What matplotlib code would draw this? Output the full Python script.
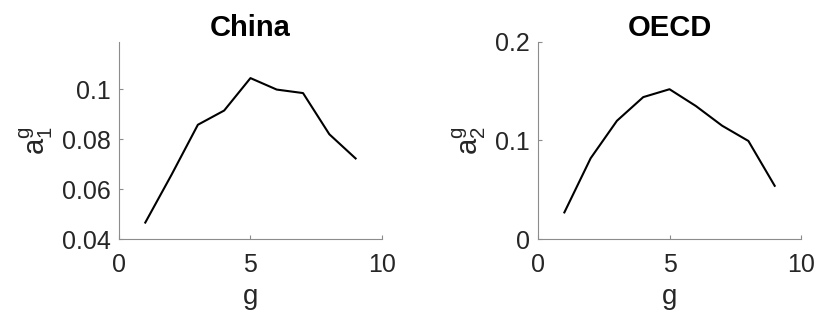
import matplotlib
matplotlib.use('Agg')
import matplotlib.pyplot as plt

plt.rcParams['font.family'] = ['Liberation Sans', 'DejaVu Sans']
plt.rcParams['mathtext.fontset'] = 'custom'
plt.rcParams['mathtext.rm'] = 'Liberation Sans'
plt.rcParams['mathtext.it'] = 'Liberation Sans'

# data
g = [1, 2, 3, 4, 5, 6, 7, 8, 9]
china = [0.0466, 0.0658, 0.0858, 0.0915, 0.1045, 0.0999, 0.0985, 0.0820, 0.0723]
oecd = [0.027, 0.082, 0.120, 0.144, 0.152, 0.135, 0.115, 0.0995, 0.054]

titles = ['China', 'OECD']
ylabels = [r'$\mathregular{a_1^g}$', r'$\mathregular{a_2^g}$']
ylims = [(0.04, 0.119), (0.0, 0.2)]
yticks = [[0.04, 0.06, 0.08, 0.1], [0, 0.1, 0.2]]
yticklabels = [['0.04', '0.06', '0.08', '0.1'], ['0', '0.1', '0.2']]

AXIS_GRAY = '#8c8c8c'
TEXT = '#262626'

fig = plt.figure(figsize=(8.19, 3.2), dpi=100)
lefts = [0.1453, 0.657]

for i, ys in enumerate([china, oecd]):
    ax = fig.add_axes([lefts[i], 0.253, 0.321, 0.616])
    ax.plot(g, ys, color='black', linewidth=1.5)
    ax.set_xlim(0, 10)
    ax.set_ylim(*ylims[i])
    ax.set_xticks([0, 5, 10])
    ax.set_yticks(yticks[i])
    ax.set_yticklabels(yticklabels[i])
    ax.spines['top'].set_visible(False)
    ax.spines['right'].set_visible(False)
    for s in ('left', 'bottom'):
        ax.spines[s].set_color(AXIS_GRAY)
        ax.spines[s].set_linewidth(0.8)
    ax.tick_params(direction='in', length=3, width=0.8, color=AXIS_GRAY,
                   labelsize=18, labelcolor=TEXT)
    ax.tick_params(axis='x', pad=10)
    ax.tick_params(axis='y', pad=6)
    ax.set_title(titles[i], fontsize=21, fontweight='bold', color='black', pad=1)
    ax.set_xlabel('g', fontsize=20, color=TEXT, labelpad=5)
    ax.set_ylabel(ylabels[i], fontsize=21, color=TEXT, labelpad=5)

fig.savefig('out.png', dpi=100)
